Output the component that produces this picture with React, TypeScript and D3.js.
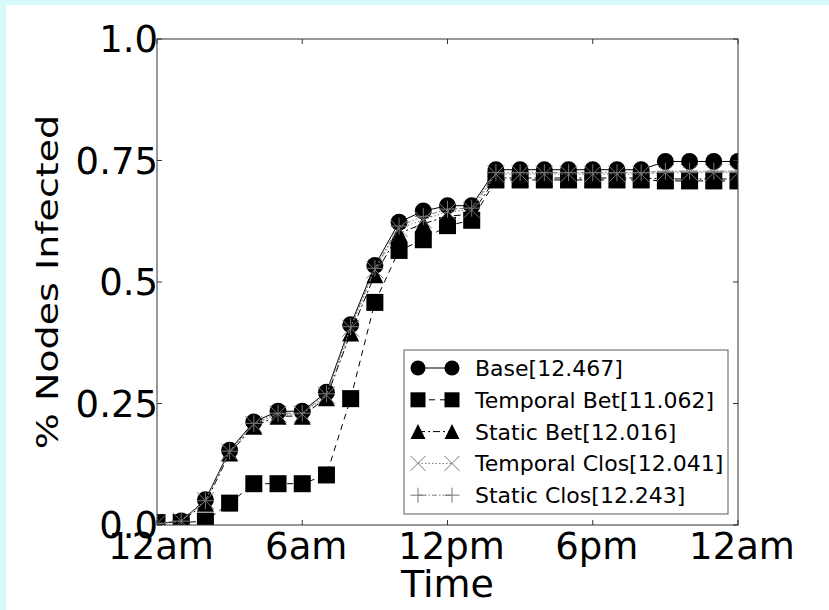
import React from "react";
import * as d3 from "d3";

// hours since midnight (one point per hour)
const hours = [0, 1, 2, 3, 4, 5, 6, 7, 8, 9, 10, 11, 12, 13, 14, 15, 16, 17, 18, 19, 20, 21, 22, 23, 24];

const base = [0.003, 0.008, 0.052, 0.154, 0.212, 0.234, 0.234, 0.273, 0.412, 0.534, 0.623, 0.646, 0.657, 0.657,
  0.731, 0.731, 0.731, 0.731, 0.731, 0.731, 0.731, 0.748, 0.748, 0.748, 0.748];
const temporalBet = [0.005, 0.005, 0.008, 0.045, 0.085, 0.085, 0.085, 0.103, 0.26, 0.458, 0.565, 0.587, 0.616, 0.627,
  0.71, 0.71, 0.71, 0.71, 0.71, 0.71, 0.71, 0.708, 0.708, 0.708, 0.708];
const staticBet = [0.003, 0.007, 0.045, 0.148, 0.203, 0.224, 0.224, 0.262, 0.395, 0.515, 0.6, 0.62, 0.635, 0.64,
  0.714, 0.714, 0.714, 0.714, 0.714, 0.714, 0.714, 0.712, 0.712, 0.712, 0.712];
const temporalClos = [0.003, 0.008, 0.05, 0.15, 0.207, 0.228, 0.228, 0.267, 0.405, 0.525, 0.61, 0.628, 0.645, 0.648,
  0.722, 0.722, 0.722, 0.722, 0.722, 0.722, 0.722, 0.725, 0.725, 0.725, 0.725];
const staticClos = [0.003, 0.008, 0.05, 0.152, 0.209, 0.23, 0.23, 0.27, 0.408, 0.528, 0.615, 0.635, 0.65, 0.652,
  0.725, 0.725, 0.725, 0.725, 0.725, 0.725, 0.725, 0.728, 0.728, 0.728, 0.728];

const seriesNames = ["Base[12.467]", "Temporal Bet[11.062]", "Static Bet[12.016]", "Temporal Clos[12.041]", "Static Clos[12.243]"];

const xTickHours = [0, 6, 12, 18, 24];
const xTickLabels = ["12am", "6am", "12pm", "6pm", "12am"];
const yTicks = [0, 0.25, 0.5, 0.75, 1.0];
const yTickLabels = ["0.0", "0.25", "0.5", "0.75", "1.0"];

const W = 829;
const H = 610;
const left = 157, right = 738, top = 39, bottom = 525;

const styles = [
  { marker: "circle", dash: null, color: "#000" },
  { marker: "square", dash: "6,5", color: "#000" },
  { marker: "triangle", dash: "7,3,2,3", color: "#000" },
  { marker: "x", dash: "1.5,2", color: "#777" },
  { marker: "plus", dash: "5,2,1.5,2,1.5,2", color: "#777" },
];

const Marker = ({ type, x, y, s = 17 }: { type: string; x: number; y: number; s?: number }) => {
  const h = s / 2;
  if (type === "circle") return <circle cx={x} cy={y} r={h} fill="#000" />;
  if (type === "square") return <rect x={x - h} y={y - h} width={s} height={s} fill="#000" />;
  if (type === "triangle")
    return <path d={`M${x},${y - h}L${x + h},${y + h}L${x - h},${y + h}Z`} fill="#000" />;
  if (type === "x")
    return <path d={`M${x - h},${y - h}L${x + h},${y + h}M${x - h},${y + h}L${x + h},${y - h}`} stroke="#777" strokeWidth={1} />;
  return <path d={`M${x - h},${y}L${x + h},${y}M${x},${y - h}L${x},${y + h}`} stroke="#777" strokeWidth={1} />;
};

export default function App() {
  const x = d3.scaleLinear().domain([0, 24]).range([left, right]);
  const y = d3.scaleLinear().domain([0, 1]).range([bottom, top]);
  const allSeries = [base, temporalBet, staticBet, temporalClos, staticClos];
  const line = d3.line<number>().x((_, i) => x(hours[i])).y((d) => y(d));

  const legX = 404, legY = 350, legW = 324, legH = 164;
  const rowY = (i: number) => legY + 18 + i * 31.8;

  return (
    <svg width={W} height={H} style={{ position: "absolute", left: 0, top: 0 }}
      fontFamily="DejaVu Sans, sans-serif">
      <rect x={0} y={0} width={W} height={H} fill="#d5fbfd" />
      <rect x={6} y={5} width={W - 6} height={H - 5} fill="#fff" />
      <defs>
        <clipPath id="plotClip">
          <rect x={left} y={top} width={right - left} height={bottom - top} />
        </clipPath>
      </defs>

      <g clipPath="url(#plotClip)">
        {allSeries.map((s, k) => (
          <g key={k}>
            <path d={line(s) || ""} fill="none" stroke={styles[k].color} strokeWidth={1}
              strokeDasharray={styles[k].dash || undefined} />
            {s.map((v, i) => (
              <Marker key={i} type={styles[k].marker} x={x(hours[i])} y={y(v)} />
            ))}
          </g>
        ))}
      </g>

      {/* frame */}
      <rect x={left} y={top} width={right - left} height={bottom - top} fill="none" stroke="#333" strokeWidth={1} />

      {/* ticks */}
      {xTickHours.map((h, i) => (
        <g key={i}>
          <line x1={x(h)} x2={x(h)} y1={bottom} y2={bottom - 5} stroke="#333" />
          <line x1={x(h)} x2={x(h)} y1={top} y2={top + 5} stroke="#333" />
          <text x={x(h) + 4} y={559} textAnchor="middle" fontSize={37}>
            {xTickLabels[i]}
          </text>
        </g>
      ))}
      {yTicks.map((t, i) => (
        <g key={i}>
          <line x1={left} x2={left + 5} y1={y(t)} y2={y(t)} stroke="#333" />
          <line x1={right} x2={right - 5} y1={y(t)} y2={y(t)} stroke="#333" />
          <text x={left + 1} y={y(t)} textAnchor="end" dy="0.36em" fontSize={37}>
            {yTickLabels[i]}
          </text>
        </g>
      ))}

      <text x={(left + right) / 2} y={597} textAnchor="middle" fontSize={38}>Time</text>
      <text transform={`translate(${58},${(top + bottom) / 2}) scale(0.78,1) rotate(-90)`} textAnchor="middle" fontSize={38}>
        % Nodes Infected
      </text>

      {/* legend */}
      <rect x={legX} y={legY} width={legW} height={legH} fill="#fff" stroke="#777" strokeWidth={1.2} />
      {seriesNames.map((name, i) => (
        <g key={i}>
          <line x1={418} x2={452} y1={rowY(i)} y2={rowY(i)} stroke={styles[i].color}
            strokeDasharray={styles[i].dash || undefined} />
          <Marker type={styles[i].marker} x={418} y={rowY(i)} s={15} />
          <Marker type={styles[i].marker} x={452} y={rowY(i)} s={15} />
          <text x={475} y={rowY(i)} dy="0.36em" fontSize={22}>{name}</text>
        </g>
      ))}
    </svg>
  );
}
